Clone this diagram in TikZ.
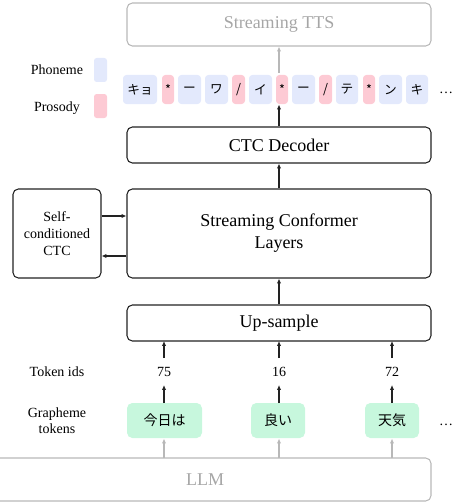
\documentclass[tikz,border=0pt]{standalone}
\usepackage{fontspec}
\setmainfont{Liberation Serif}
\newfontfamily\jp{Noto Sans CJK JP}
\usetikzlibrary{arrows.meta}
\definecolor{phon}{HTML}{E3E9FC}
\definecolor{pros}{HTML}{FDCAD4}
\definecolor{graph}{HTML}{C7F7DD}
\definecolor{faint}{HTML}{A6A6A6}
\definecolor{faintline}{HTML}{B8B8B8}
\definecolor{ink}{HTML}{222222}
\tikzset{
  sz/.style 2 args={minimum width=#1*0.75pt, minimum height=#2*0.75pt, inner sep=0pt},
  mainbox/.style={draw=ink, line width=0.8pt, rounded corners=4pt, font=\fontsize{13.5}{15}\selectfont},
  fadebox/.style={draw=faintline, line width=0.8pt, rounded corners=4pt, text=faint, font=\fontsize{13.5}{15}\selectfont},
  tok/.style={rounded corners=2.5pt, font=\jp\fontsize{9.5}{11}\selectfont},
  ph/.style={tok, fill=phon},
  pr/.style={tok, fill=pros},
  gr/.style={fill=graph, rounded corners=4pt, font=\jp\fontsize{10.5}{12}\selectfont},
  lab/.style={font=\fontsize{10.5}{12}\selectfont, align=center, inner sep=0pt},
  arr/.style={-{Latex[length=3.6pt,width=3.2pt]}, line width=0.8pt, draw=ink},
  farr/.style={-{Latex[length=3.6pt,width=3.2pt]}, line width=0.8pt, draw=faintline},
}
\begin{document}
\begin{tikzpicture}[x=0.75pt,y=-0.75pt]
\useasboundingbox (0,0) rectangle (456,503);
% boxes
\node[fadebox, sz={304}{43}] (tts) at (279,24.5) {Streaming TTS};
\node[mainbox, sz={304}{36}] (ctc) at (279,145) {CTC Decoder};
\node[mainbox, sz={304}{89}, align=center, font=\fontsize{13.5}{16.5}\selectfont] (conf) at (279,233.5) {Streaming Conformer\\Layers};
\node[mainbox, sz={88}{89}, align=center, font=\fontsize{10.5}{12.5}\selectfont] (sc) at (57,233.5) {Self-\\conditioned\\CTC};
\node[mainbox, sz={304}{36}] (up) at (279,323) {Up-sample};
\node[fadebox, sz={452}{43}] (llm) at (205,479.5) {LLM};
% legend
\node[lab] (lphon) at (57,70) {Phoneme};
\node[lab] (lpros) at (57,108) {Prosody};
\node[fill=phon, rounded corners=2pt, sz={13}{24}] (sphon) at (100.5,70) {};
\node[fill=pros, rounded corners=2pt, sz={13}{24}] (spros) at (100.5,106) {};
% token row
\node[ph, sz={34}{29}] (t1) at (140,89.5) {キョ};
\node[pr, sz={12}{29}] (t2) at (168,89.5) {*};
\node[ph, sz={23}{29}] (t3) at (189.5,89.5) {ー};
\node[ph, sz={23}{29}] (t4) at (216.5,89.5) {ワ};
\node[pr, sz={13}{29}] (t5) at (238.5,89.5) {/};
\node[ph, sz={23}{29}] (t6) at (260.5,89.5) {イ};
\node[pr, sz={12}{29}] (t7) at (282,89.5) {*};
\node[ph, sz={23}{29}] (t8) at (303.5,89.5) {ー};
\node[pr, sz={13}{29}] (t9) at (325.5,89.5) {/};
\node[ph, sz={22}{29}] (t10) at (347,89.5) {テ};
\node[pr, sz={12}{29}] (t11) at (369,89.5) {*};
\node[ph, sz={23}{29}] (t12) at (390.5,89.5) {ン};
\node[ph, sz={22}{29}] (t13) at (417,89.5) {キ};
\node[lab] (dots1) at (446,93) {\dots};
% token ids and graphemes
\node[lab] (lids) at (57,372) {Token ids};
\node[lab] (lgr) at (57,421) {Grapheme\\tokens};
\node[lab] (n1) at (164,372) {75};
\node[lab] (n2) at (279,372) {16};
\node[lab] (n3) at (392,372) {72};
\node[gr, sz={75}{35}] (g1) at (164.5,420.5) {今日は};
\node[gr, sz={54}{35}] (g2) at (278,420.5) {良い};
\node[gr, sz={54}{35}] (g3) at (392,420.5) {天気};
\node[lab] (dots2) at (446,425) {\dots};
% arrows
\coordinate (rowtop) at (279,73);
\coordinate (rowbot) at (279,104.5);
\draw[farr] (rowtop) -- (rowtop |- tts.south);
\draw[arr] (ctc.north) -- (rowbot);
\draw[arr] (conf.north) -- (ctc.south);
\draw[arr] (up.north) -- (conf.south);
\draw[arr] (sc.east |- 0,216) -- (conf.west |- 0,216);
\draw[arr] (conf.west |- 0,256) -- (sc.east |- 0,256);
\foreach \i/\x in {1/164,2/279,3/392}{
  \draw[arr] (\x,358) -- (\x,341);
  \draw[arr] (\x,403) -- (\x,385);
  \draw[farr] (\x,458) -- (\x,438.5);
}
\end{tikzpicture}
\end{document}
